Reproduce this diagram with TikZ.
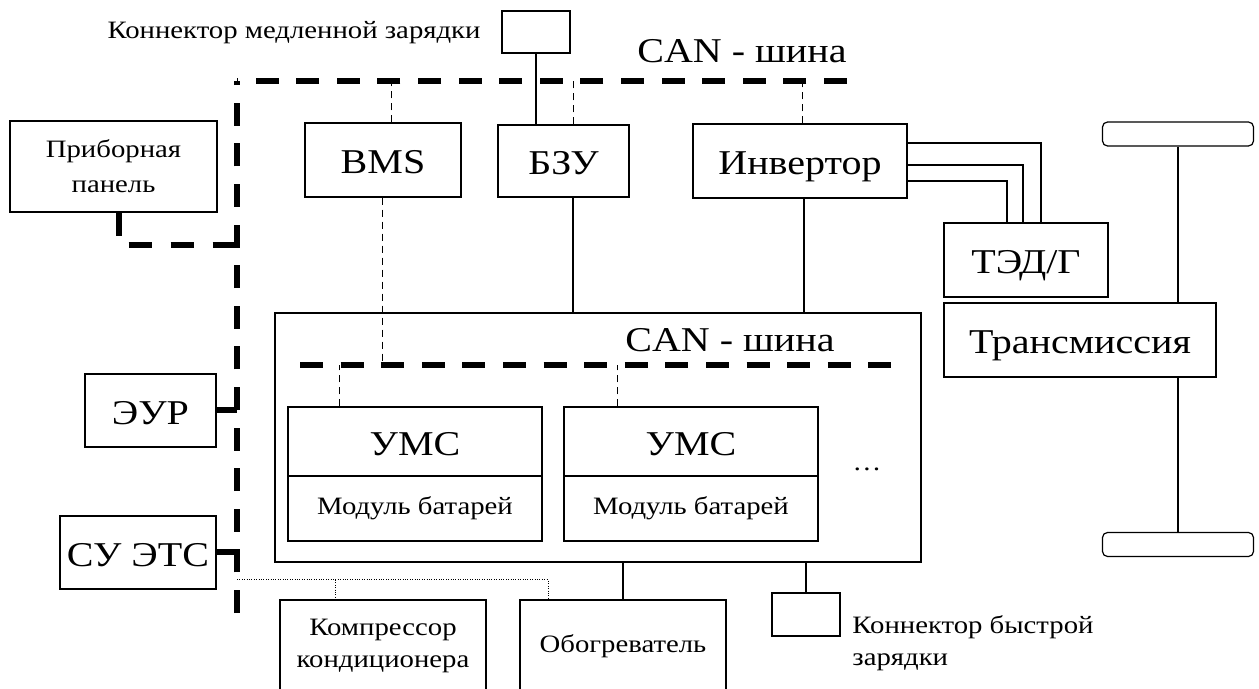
\documentclass[tikz,border=0pt]{standalone}
\usepackage{fontspec}
\setmainfont{Liberation Serif}[FakeStretch=1.15]
\usetikzlibrary{calc}
\newcommand\fbig{\fontsize{17.4}{20}\selectfont}
\newcommand\fsmall{\fontsize{12.5}{16}\selectfont}
\begin{document}
\begin{tikzpicture}[x=0.5pt,y=-0.5pt,
  box/.style={draw,line width=0.6pt,inner sep=0pt,align=center},
  bigbox/.style={box,font=\fbig,text height=14pt,text depth=0pt},
  smallbox/.style={box,font=\fsmall},
  wire/.style={line width=0.6pt},
  canbus/.style={line width=3pt,dash pattern=on 11.5pt off 8.8pt},
  thindash/.style={line width=0.5pt,dash pattern=on 3.5pt off 2.5pt},
  dotline/.style={line width=0.5pt,dash pattern=on 0.5pt off 0.7pt},
  wheel/.style={draw,line width=0.6pt,rounded corners=2.5pt,inner sep=0pt,minimum width=75.5pt,minimum height=12pt}
]
\useasboundingbox (0,0) rectangle (1259,689);
\clip (0,0) rectangle (1259,689);

% boxes
\node[smallbox,minimum width=103.5pt,minimum height=45.5pt,font=\fontsize{12.5}{17.5}\selectfont] (panel) at (113.5,166.5) {Приборная\\панель};
\node[box,minimum width=34pt,minimum height=21pt] (slow) at (536,32) {};
\node[bigbox,minimum width=78pt,minimum height=37pt] (bms) at (383,160) {BMS};
\node[bigbox,minimum width=65.5pt,minimum height=36pt] (bzu) at (563.5,161) {БЗУ};
\node[bigbox,minimum width=107pt,minimum height=37pt] (inv) at (800,161) {Инвертор};
\node[bigbox,minimum width=82pt,minimum height=37pt] (ted) at (1026,260) {ТЭД/Г};
\node[bigbox,minimum width=136pt,minimum height=37pt] (trans) at (1080,340) {Трансмиссия};
\node[wheel] (wtop) at (1178,134) {};
\node[wheel] (wbot) at (1178,544.5) {};
\node[box,minimum width=323pt,minimum height=124.5pt] (pack) at (598,437.5) {};
\node[bigbox,minimum width=127pt,minimum height=34.5pt] (u1) at (415,441.5) {УМС};
\node[smallbox,minimum width=127pt,minimum height=32.5pt] (m1) at (415,508.5) {Модуль батарей};
\node[bigbox,minimum width=127pt,minimum height=34.5pt] (u2) at (691,441.5) {УМС};
\node[smallbox,minimum width=127pt,minimum height=32.5pt] (m2) at (691,508.5) {Модуль батарей};
\node[bigbox,minimum width=65.5pt,minimum height=36.5pt] (eur) at (150.5,410.5) {ЭУР};
\node[bigbox,minimum width=78pt,minimum height=36.5pt] (sue) at (138,552.5) {СУ ЭТС};
\node[smallbox,minimum width=103pt,minimum height=46pt] (komp) at (383,646) {Компрессор\\кондиционера};
\node[smallbox,minimum width=103pt,minimum height=46pt] (obog) at (623,646) {Обогреватель};
\node[box,minimum width=34pt,minimum height=21.5pt] (fast) at (806,614.5) {};

% labels
\node[font=\fsmall,anchor=base east,inner sep=0pt] (slowlbl) at (481,39) {Коннектор медленной зарядки};
\node[font=\fbig,anchor=base east,inner sep=0pt] (cantop) at (847,63) {CAN - шина};
\node[font=\fbig,anchor=base east,inner sep=0pt] (canin) at (835,352) {CAN - шина};
\node[font=\fsmall,anchor=north west,inner sep=0pt,align=left] (fastlbl) at (852,615) {Коннектор быстрой\\зарядки};
\node[font=\fsmall,anchor=base,inner sep=0pt] (dots) at (867,471) {…};

% CAN buses
\coordinate (busR) at (847,81);
\coordinate (busC) at (237,81);
\coordinate (busB) at (237,613);
\coordinate (plEnd) at (237,245);
\coordinate (ibL) at (300,365);
\coordinate (ibR) at (892,365);
\draw[canbus] (busR) -- (busC);
\draw[canbus] (busB) -- (busC);
\draw[canbus] (ibL) -- (ibR);
\coordinate (plStart) at ($(panel.south)+(5.5,0)$);
\draw[canbus,dash pattern=on 11.5pt off 9.5pt] (plStart) |- (plEnd);
\draw[line width=3pt] (eur.east) -- (eur.east -| busC);
\draw[line width=3pt] (sue.east) -- (sue.east -| busC);

% thin dashed links
\coordinate (bmsT) at ($(bms.north)+(8,0)$);
\draw[thindash] (bmsT) -- (bmsT |- busR);
\coordinate (bmsB) at ($(bms.south)+(-1,0)$);
\draw[thindash] (bmsB) -- (bmsB |- ibL);
\coordinate (bzuT) at ($(bzu.north)+(9.5,0)$);
\draw[thindash] (bzuT) -- (bzuT |- busR);
\coordinate (invT) at ($(inv.north)+(2,0)$);
\draw[thindash] (invT) -- (invT |- busR);
\coordinate (u1T) at ($(u1.north)+(-76,0)$);
\draw[thindash] (u1T) -- (u1T |- ibL);
\coordinate (u2T) at ($(u2.north)+(-74,0)$);
\draw[thindash] (u2T) -- (u2T |- ibL);

% solid links
\draw[wire] (slow.south) -- (slow.south |- bzu.north);
\coordinate (bzuB) at ($(bzu.south)+(9.5,0)$);
\draw[wire] (bzuB) -- (bzuB |- pack.north);
\coordinate (invB) at ($(inv.south)+(4,0)$);
\draw[wire] (invB) -- (invB |- pack.north);
\draw[wire] ($(inv.east)+(0,-18)$) -| ($(ted.north)+(15,0)$);
\draw[wire] ($(inv.east)+(0,4)$) -| ($(ted.north)+(-3,0)$);
\draw[wire] ($(inv.east)+(0,20)$) -| ($(ted.north)+(-19,0)$);
\draw[wire] (wtop.south) -- (wtop.south |- trans.north);
\draw[wire] (wtop.south |- trans.south) -- (wbot.north);
\draw[wire] (obog.north) -- (obog.north |- pack.south);
\draw[wire] (fast.north) -- (fast.north |- pack.south);

% dotted links
\coordinate (dotL) at (237,580);
\coordinate (dK) at ($(komp.north)+(-48,0)$);
\coordinate (dO) at ($(obog.north)+(-75,0)$);
\draw[dotline] (dotL) -- (dotL -| dO) -- (dO);
\draw[dotline] (dK |- dotL) -- (dK);
\end{tikzpicture}
\end{document}
